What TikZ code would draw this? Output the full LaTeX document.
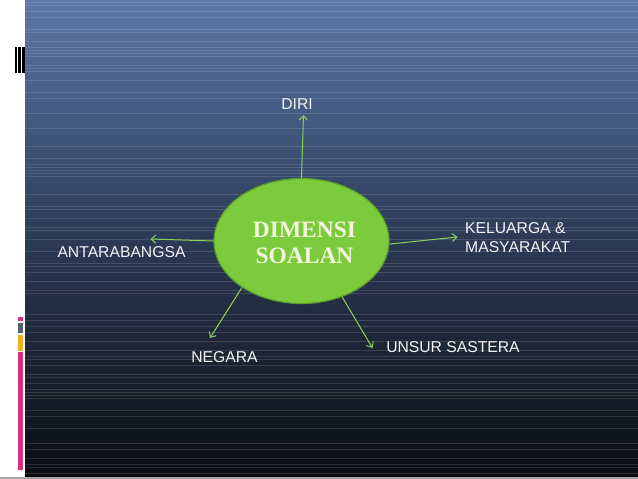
\documentclass[tikz,border=0pt]{standalone}
\usepackage{fontspec}
\setmainfont{Liberation Serif}
\newfontfamily\arialf{Liberation Sans}
\usetikzlibrary{shapes.geometric,arrows.meta}
\definecolor{bgtop}{HTML}{5B78A8}
\definecolor{bgmid}{HTML}{2C3A56}
\definecolor{bgbot}{HTML}{0A0C10}
\definecolor{elfill}{HTML}{7CCB3C}
\definecolor{eledge}{HTML}{5C9E2C}
\definecolor{arrgreen}{HTML}{8CD25A}
\definecolor{cream}{HTML}{F2F4DC}
\definecolor{lbltext}{HTML}{F2F2F2}
\definecolor{mpink}{HTML}{D8307F}
\definecolor{mgray}{HTML}{5A6070}
\definecolor{myellow}{HTML}{F0B020}
\tikzset{
  lbl/.style={font=\arialf\fontsize{15.7}{19}\selectfont, text=lbltext, inner sep=0pt},
  conn/.style={draw=arrgreen, line width=1pt, -{Straight Barb[length=4.5pt,width=8pt,line width=1pt]}},
  centre/.style={ellipse, fill=elfill, draw=eledge, line width=1.2pt, minimum width=175pt, minimum height=125pt, inner sep=0pt},
  centretext/.style={text=cream, align=center, inner sep=0pt, font=\bfseries\fontsize{23.5}{26.5}\selectfont},
  stripe/.style={draw=white, line width=0.8pt, opacity=0.13}
}
\begin{document}
\begin{tikzpicture}[x=1pt,y=-1pt]
\useasboundingbox (0,0) rectangle (638,479);
\fill[white] (0,0) rectangle (638,479);
% background
\shade[top color=bgtop, bottom color=bgbot, middle color=bgmid] (25,0) rectangle (638,477);
\pgfmathsetseed{11}
\foreach \yy in {2,5,...,476}{
  \pgfmathparse{rnd>0.55 ? 1 : 0}
  \ifnum\pgfmathresult=1
    \draw[stripe] (25,\yy) -- (638,\yy);
  \fi
}
\fill[gray!70] (0,477) rectangle (638,479);
% left marks
\fill[black] (15,47) rectangle (16.7,73);
\fill[black] (18.3,47) rectangle (20.7,73);
\fill[black] (22.3,47) rectangle (24.5,73);
\fill[mpink] (18,317) rectangle (23,321);
\fill[mgray] (18,323) rectangle (23,333);
\fill[myellow] (18,335) rectangle (23,351);
\fill[mpink] (18,352) rectangle (23,470);
% centre
\node[centre] (c) at (301.5,241) {};
\node[centretext] (ct) at (304.5,243) {DIMENSI\\SOALAN};
% labels
\node[lbl] (diri) at (297,104) {DIRI};
\node[lbl, anchor=west, align=left] (kel) at (465,237.5) {KELUARGA \&\\MASYARAKAT};
\node[lbl] (antar) at (121.5,252) {ANTARABANGSA};
\node[lbl] (neg) at (224.5,357) {NEGARA};
\node[lbl] (unsur) at (453,347) {UNSUR SASTERA};
% arrow tips
\coordinate (tdiri) at (303.5,115);
\coordinate (tkel) at (457.5,237);
\coordinate (tantar) at (150.5,239);
\coordinate (tneg) at (210,338);
\coordinate (tunsur) at (372.5,348);
\draw[conn] (c.90) -- (tdiri);
\draw[conn] (c.-2) -- (tkel);
\draw[conn] (c.180) -- (tantar);
\draw[conn] (c.218.5) -- (tneg);
\draw[conn] (c.-54) -- (tunsur);
\end{tikzpicture}
\end{document}
